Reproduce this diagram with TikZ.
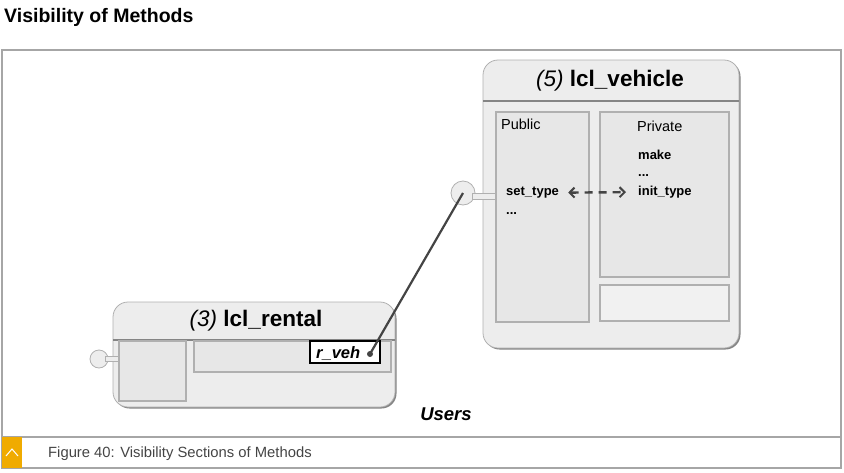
\documentclass[tikz,border=0pt]{standalone}
\usepackage{fontspec}
\setmainfont{Liberation Sans}
\usetikzlibrary{arrows.meta,shadows}
\definecolor{boxfill}{HTML}{EDEDED}
\definecolor{panelfill}{HTML}{E7E7E7}
\definecolor{lowfill}{HTML}{F1F1F1}
\definecolor{edgegray}{HTML}{B0B0B0}
\definecolor{shadegray}{HTML}{858585}
\definecolor{framegray}{HTML}{A6A6A6}
\definecolor{inkgray}{HTML}{444444}
\definecolor{sapgold}{HTML}{F0AB00}
\newcommand{\fsz}[1]{\fontsize{#1}{#1}\selectfont}

\begin{document}
\begin{tikzpicture}[x=1pt,y=-1pt,
	classbox/.style={draw=edgegray,fill=boxfill,rounded corners=15pt,line width=0.8pt,inner sep=0pt,
		drop shadow={shadow xshift=1.5pt,shadow yshift=-1.5pt,fill=shadegray,opacity=1}},
	panel/.style={draw=edgegray,fill=panelfill,line width=1.2pt,inner sep=0pt},
	lolli/.style={circle,draw=edgegray,fill=boxfill,line width=0.8pt,inner sep=0pt},
	member/.style={anchor=base west,inner sep=0pt,font=\fsz{13}\bfseries},
	sectitle/.style={anchor=base west,inner sep=0pt,font=\fsz{14.5}},
	headline/.style={draw=shadegray,line width=1.3pt}]
	\useasboundingbox (0,0) rectangle (844,472);

	\node[anchor=base west,inner sep=0pt,font=\fsz{19.5}\bfseries] (title) at (4,22) {Visibility of Methods};
	\draw[framegray,line width=1.6pt] (2,50) rectangle (841,468);
	\draw[framegray,line width=1.6pt] (2,437) -- (841,437);
	\node[fill=sapgold,minimum width=20,minimum height=31,inner sep=0pt] (tag) at (12,452.5) {};
	\draw[white,line width=1pt] ([shift={(-6,3.5)}]tag.center) -- ([shift={(0,-3.5)}]tag.center) -- ([shift={(6,3.5)}]tag.center);
	\node[anchor=base west,inner sep=0pt,font=\fsz{14.8},text=inkgray] (caption) at (48,457) {Figure 40: Visibility Sections of Methods};

	\node[classbox,minimum width=256,minimum height=288] (vehicle) at (611,204) {};
	\draw[headline] (483,101) -- (739,101);
	\node[font=\fsz{22.5},inner sep=0pt] (vtitle) at (610,81) {{\itshape (5)} \bfseries lcl\_vehicle};
	\node[lolli,minimum size=24] (vlolli) at (463,193) {};
	\node[draw=edgegray,fill=boxfill,minimum width=24,minimum height=6,inner sep=0pt] (vstem) at (484,196) {};
	\node[panel,minimum width=93,minimum height=210] (public) at (542.5,217) {};
	\node[panel,minimum width=129,minimum height=165] (private) at (664.5,194.5) {};
	\node[panel,fill=lowfill,minimum width=129,minimum height=36] (privlow) at (664.5,303) {};
	\node[sectitle] (pubtitle) at (501,129) {Public};
	\node[sectitle] (privtitle) at (637,131) {Private};
	\node[member] (make) at (638,159) {make};
	\node[member] (vdots) at (638,176) {...};
	\node[member] (inittype) at (638,195) {init\_type};
	\node[member] (settype) at (506,195) {set\_type};
	\node[member] (pdots) at (506,214) {...};
	\draw[{Straight Barb[length=5pt,width=10pt,line width=2pt]}-{Straight Barb[length=5pt,width=10pt,line width=2pt]},inkgray,line width=2.4pt,dash pattern=on 8pt off 6pt]
		([xshift=9pt,yshift=-0.5pt]settype.east) -- ([xshift=-12pt,yshift=-0.5pt]inittype.west);

	\node[classbox,minimum width=282,minimum height=105] (rental) at (254,354.5) {};
	\draw[headline] (113,340) -- (395,340);
	\node[font=\fsz{22.5},inner sep=0pt] (rtitle) at (256,321) {{\itshape (3)} \bfseries lcl\_rental};
	\node[lolli,minimum size=18] (rlolli) at (99,359) {};
	\node[draw=edgegray,fill=boxfill,minimum width=14,minimum height=5,inner sep=0pt] (rstem) at (112,359) {};
	\node[panel,minimum width=67,minimum height=60] (rleft) at (152.5,371) {};
	\node[panel,minimum width=197,minimum height=31] (rright) at (292.5,356.5) {};
	\node[draw=black,fill=white,line width=1.5pt,minimum width=70,minimum height=22,inner sep=0pt] (rveh) at (345,352) {};
	\node[anchor=base west,inner sep=0pt,font=\fsz{16.5}\bfseries\itshape] (rvehtext) at (316,358) {r\_veh};
	\node[circle,fill=inkgray,minimum size=6,inner sep=0pt] (vehref) at (370,354) {};
	\draw[inkgray,line width=2.2pt] (vehref.center) -- (vlolli.center);

	\node[font=\fsz{18.5}\bfseries\itshape,inner sep=0pt] (users) at (446,414) {Users};
\end{tikzpicture}
\end{document}
